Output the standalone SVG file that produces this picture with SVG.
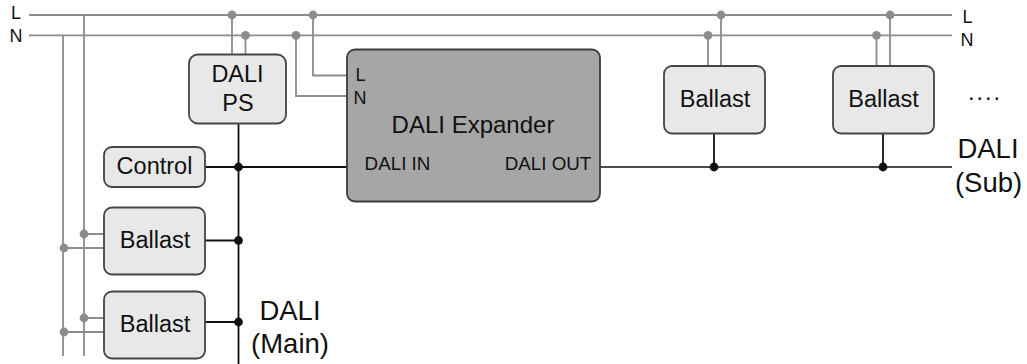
<svg xmlns="http://www.w3.org/2000/svg" width="1027" height="364" viewBox="0 0 1027 364">
<style>
text{font-family:"Liberation Sans",Arial,sans-serif;fill:#111;text-anchor:middle}
.n{fill:#e8e8e8;stroke:#454545;stroke-width:1.8}
.g{fill:none;stroke:#8c8c8c;stroke-width:1.8}
.k{fill:none;stroke:#111;stroke-width:1.8}
.k2{fill:none;stroke:#111;stroke-width:1.4}
.gd{fill:#8c8c8c}
.kd{fill:#111}
.gd circle,.kd circle{r:4.4px}
.t23{font-size:23.5px}
.t18{font-size:18px}
.t19{font-size:18.8px}
.t27{font-size:27.5px}
</style>
<rect width="1027" height="364" fill="#fff"/>
<g id="connectors">
<path class="g" d="M29 15H952M29 35.300H952"/>
<path class="g" d="M63 35.300V356M84 15V356"/>
<path class="g" d="M232 15V54M245.500 35.300V54"/>
<path class="g" d="M313 15V75.500H347M296 35.300V96H347"/>
<path class="g" d="M708 35.300V66M721 15V66M876.500 35.300V66M890 15V66"/>
<path class="g" d="M84 234H104M63 248H104M84 318H104M63 332H104"/>
<path class="k" d="M238.500 124V364M205 167H347M205 240.500H238.500M205 322H238.500"/>
<path class="k2" d="M600 167H952"/>
<path class="k" d="M714 133V167M883 133V167"/>
<g class="gd"><circle cx="232" cy="15" r="4.400"/><circle cx="313" cy="15" r="4.400"/><circle cx="245.500" cy="35.300" r="4.400"/><circle cx="296" cy="35.300" r="4.400"/><circle cx="721" cy="15" r="4.400"/><circle cx="890" cy="15" r="4.400"/><circle cx="708" cy="35.300" r="4.400"/><circle cx="876.500" cy="35.300" r="4.400"/><circle cx="84" cy="234" r="4.400"/><circle cx="64" cy="248" r="4.400"/><circle cx="84" cy="318" r="4.400"/><circle cx="64" cy="332" r="4.400"/></g>
<g class="kd"><circle cx="238.500" cy="167" r="4.400"/><circle cx="238.500" cy="240.500" r="4.400"/><circle cx="238.500" cy="322" r="4.400"/><circle cx="714" cy="167" r="4.400"/><circle cx="883" cy="167" r="4.400"/></g>
</g>
<g id="dali-ps"><rect class="n" x="189" y="54.500" width="97" height="69" rx="9"/><text class="t23" x="237.500" y="82">DALI</text><text class="t23" x="238" y="110.500">PS</text></g>
<g id="control"><rect class="n" x="104" y="147" width="101" height="40" rx="8"/><text class="t23" x="154.500" y="174">Control</text></g>
<g id="ballast-main-1"><rect class="n" x="104" y="207.500" width="101" height="67" rx="8"/><text class="t23" x="155" y="248">Ballast</text></g>
<g id="ballast-main-2"><rect class="n" x="104" y="291.500" width="101" height="67" rx="8"/><text class="t23" x="155" y="332">Ballast</text></g>
<g id="dali-expander"><rect x="347" y="49.500" width="253" height="152" rx="8" fill="#a6a6a6" stroke="#3c3c3c" stroke-width="1.800"/>
<text class="t18" x="360.500" y="81">L</text><text class="t18" x="360" y="104">N</text>
<text class="t23" x="473" y="133" style="font-size:24px">DALI Expander</text>
<text class="t19" x="397.500" y="170">DALI IN</text><text class="t19" x="548" y="170">DALI OUT</text></g>
<g id="ballast-sub-1"><rect class="n" x="664" y="66" width="101" height="67.500" rx="8"/><text class="t23" x="715" y="106.500">Ballast</text></g>
<g id="ballast-sub-2"><rect class="n" x="833" y="66" width="101" height="67.500" rx="8"/><text class="t23" x="883.500" y="106.500">Ballast</text></g>
<g id="labels">
<text class="t18" x="16" y="19">L</text><text class="t18" x="16" y="41.500">N</text>
<text class="t18" x="967.500" y="23">L</text><text class="t18" x="967" y="46">N</text>
<text class="t23" x="985" y="100" letter-spacing="2">....</text>
<text class="t27" x="988" y="158">DALI</text><text class="t27" x="988.500" y="192">(Sub)</text>
<text class="t27" x="290" y="320">DALI</text><text class="t27" x="290" y="353">(Main)</text>
</g>
</svg>
